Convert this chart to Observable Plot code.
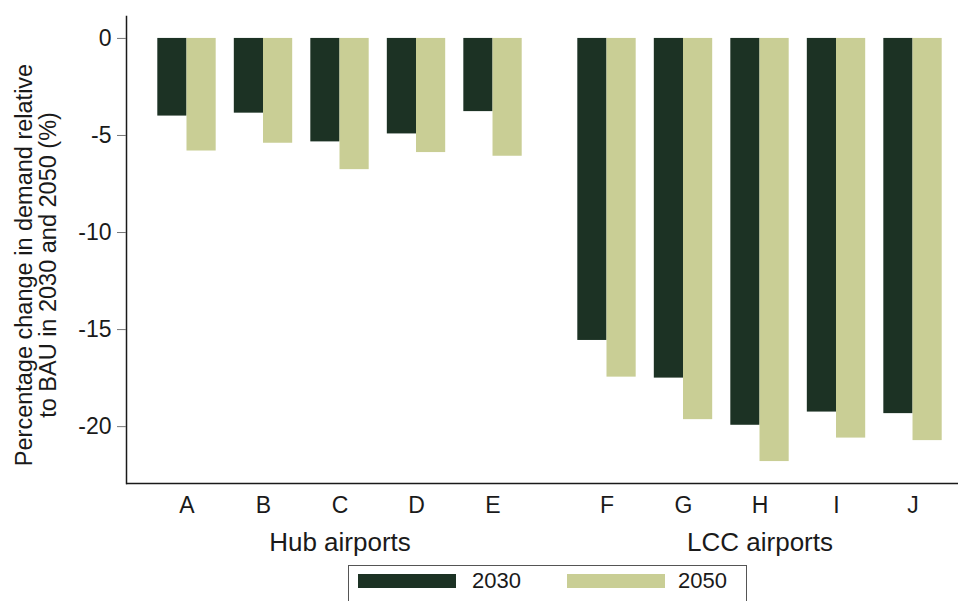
<!DOCTYPE html>
<html>
<head>
<meta charset="utf-8">
<script src="https://cdn.jsdelivr.net/npm/d3@7"></script>
<script src="https://cdn.jsdelivr.net/npm/@observablehq/plot@0.6"></script>
<style>
  html, body { margin: 0; padding: 0; background: #fff; overflow: hidden; }
  #wrap { position: relative; width: 958px; height: 601px; overflow: hidden; font-family: "Liberation Sans", Arial, sans-serif; }
  #wrap svg { max-width: none !important; display: block; }
  #legend { position: absolute; left: 348px; top: 565px; width: 399px; height: 50px; border: 1px solid #555; box-sizing: border-box; }
  #legend .sw { position: absolute; top: 8px; width: 98px; height: 14px; }
  #legend .lb { position: absolute; top: 1px; font-size: 22px; line-height: 28px; color: #1a1a1a; }
</style>
</head>
<body>
<div id="wrap"><div id="chart"></div><div id="legend"></div></div>
<script>
// ---- data ----
const groupNames = ["Hub airports", "LCC airports"];
const hubAirports = ["A", "B", "C", "D", "E"];
const lccAirports = ["F", "G", "H", "I", "J"];
const years = ["2030", "2050"];
const values2030 = [-4.0, -3.85, -5.33, -4.92, -3.77, -15.56, -17.5, -19.93, -19.25, -19.33];
const values2050 = [-5.8, -5.40, -6.76, -5.88, -6.07, -17.45, -19.64, -21.8, -20.59, -20.72];
const yTicks = [0, -5, -10, -15, -20];
const yLabel = "Percentage change in demand relative\nto BAU in 2030 and 2050 (%)";

// ---- styles ----
const colors = {"2030": "#1c3224", "2050": "#c9ce95"};
const yDomain = [-22.93, 1.13];

// ---- build table ----
const members = [hubAirports, lccAirports];
const rows = [];
let k = 0;
members.forEach((list, gi) => {
  list.forEach((airport, si) => {
    rows.push({airport, group: groupNames[gi], slot: si + 1, year: "2030", value: values2030[k]});
    rows.push({airport, group: groupNames[gi], slot: si + 1, year: "2050", value: values2050[k]});
    k++;
  });
});
const slots = Array.from(new Set(rows.map(d => d.slot)));
const midSlot = slots[Math.floor(slots.length / 2)];
const groupRows = groupNames.map(g => ({group: g, slot: midSlot}));
const r2030 = rows.filter(d => d.year === "2030");
const r2050 = rows.filter(d => d.year === "2050");

const width = 966, marginLeft = 126;
const paddingInner = 0.237, paddingOuter = 0.3634;
const facetW = (width - marginLeft) / groupNames.length;
const step = facetW / (slots.length - paddingInner + 2 * paddingOuter);
const half = step * (1 - paddingInner) / 2;

const chart = Plot.plot({
  width,
  height: 562,
  marginLeft,
  marginRight: 0,
  marginTop: 16,
  marginBottom: 79,
  style: {fontFamily: "Liberation Sans, Arial, sans-serif", fontSize: "23px", color: "#1a1a1a", maxWidth: "none"},
  fx: {domain: groupNames, padding: 0, round: false, axis: null, label: null},
  x: {type: "band", domain: slots, paddingInner, paddingOuter, align: 0.563, round: false, axis: null},
  y: {domain: yDomain, axis: null},
  marks: [
    Plot.barY(r2030, {fx: "group", x: "slot", y: "value", fill: colors["2030"], insetRight: half}),
    Plot.barY(r2050, {fx: "group", x: "slot", y: "value", fill: colors["2050"], insetLeft: half}),
    Plot.ruleY([yDomain[0]], {stroke: "#1a1a1a", strokeWidth: 1.5}),
    Plot.frame({anchor: "left", stroke: "#1a1a1a", strokeWidth: 1.5, facetAnchor: "left"}),
    Plot.axisY({ticks: yTicks, tickSize: 9, tickPadding: 6, tickFormat: d => d === 0 ? "0" : "-" + Math.abs(d), stroke: "#777", fill: "#1a1a1a", fontSize: 23, label: null}),
    Plot.text(r2030, {fx: "group", x: "slot", text: "airport", frameAnchor: "bottom", dy: 22, lineAnchor: "middle", fontSize: 23, fill: "#1a1a1a"}),
    Plot.text(groupRows, {fx: "group", x: "slot", text: "group", frameAnchor: "bottom", dy: 59, lineAnchor: "middle", fontSize: 26, fill: "#1a1a1a"}),
    Plot.text([{group: groupNames[0], label: yLabel}], {fx: "group", text: "label", frameAnchor: "left", rotate: -90, dx: -90, dy: 15, lineAnchor: "middle", textAnchor: "middle", lineHeight: 1.03, fontSize: 23.5, fill: "#1a1a1a"})
  ]
});
document.getElementById("chart").appendChild(chart);

// ---- legend ----
const legend = document.getElementById("legend");
const legendPos = {"2030": [9, 123], "2050": [218, 329]};
years.forEach(y => {
  const sw = document.createElement("div");
  sw.className = "sw";
  sw.style.left = legendPos[y][0] + "px";
  sw.style.background = colors[y];
  legend.appendChild(sw);
  const lb = document.createElement("div");
  lb.className = "lb";
  lb.style.left = legendPos[y][1] + "px";
  lb.textContent = y;
  legend.appendChild(lb);
});
</script>
</body>
</html>
